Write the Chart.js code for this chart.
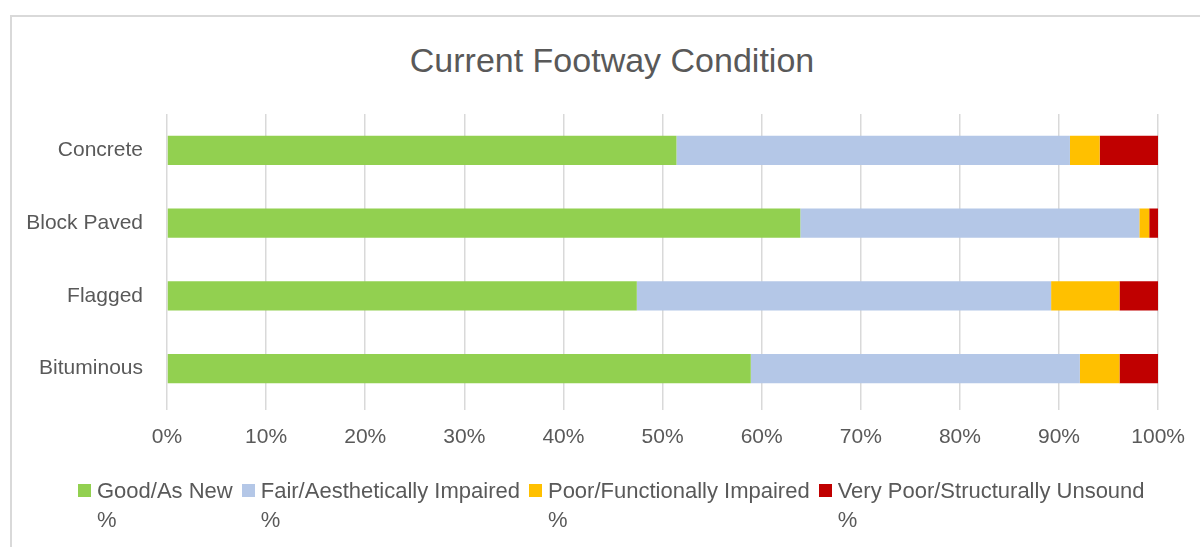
<!DOCTYPE html>
<html>
<head>
<meta charset="utf-8">
<title>Current Footway Condition</title>
<script src="https://cdn.jsdelivr.net/npm/chart.js@4.4.1/dist/chart.umd.min.js"></script>
<style>
  html, body { margin: 0; padding: 0; background: #fff; overflow: hidden; }
  #wrap { position: relative; width: 1200px; height: 547px; }
  #frame { position: absolute; left: 10px; top: 15px; width: 1220px; height: 600px; border: 2px solid #d9d9d9; box-sizing: border-box; }
  #chartBox { position: absolute; left: 0; top: 0; width: 1200px; height: 547px; }
  #title { position: absolute; left: 0; top: 40px; width: 1224px; text-align: center; font-family: 'Liberation Sans', Arial, sans-serif; font-size: 34px; line-height: 40px; color: #595959; }
  #legend { position: absolute; left: 78px; top: 476px; display: flex; font-family: 'Liberation Sans', Arial, sans-serif; font-size: 22px; color: #595959; line-height: 29px; }
  .item { display: flex; align-items: flex-start; margin-right: 9px; }
  .swatch { width: 13px; height: 13px; margin-top: 8px; margin-right: 6px; flex: none; }
</style>
</head>
<body>
<div id="wrap">
  <div id="frame"></div>
  <div id="title">Current Footway Condition</div>
  <div id="chartBox"><canvas id="chart"></canvas></div>
  <div id="legend"></div>
</div>
<script>
// surface types, top to bottom
const categories = ['Concrete', 'Block Paved', 'Flagged', 'Bituminous'];

// condition shares in percent, same order as categories
const goodAsNew = [51.4, 63.9, 47.4, 58.9];
const fairImpaired = [39.7, 34.2, 41.8, 33.2];
const poorImpaired = [3.0, 1.0, 6.9, 4.0];
const veryPoorUnsound = [5.9, 0.9, 3.9, 3.9];

const seriesNames = [
  'Good/As New %',
  'Fair/Aesthetically Impaired %',
  'Poor/Functionally Impaired %',
  'Very Poor/Structurally Unsound %'
];
const seriesColors = ['#92D050', '#B4C7E7', '#FFC000', '#C00000'];
const seriesValues = [goodAsNew, fairImpaired, poorImpaired, veryPoorUnsound];

const textColor = '#595959';
const gridColor = '#d9d9d9';
const fontFamily = "'Liberation Sans', Arial, sans-serif";

const datasets = seriesNames.map((name, i) => ({
  label: name,
  data: seriesValues[i],
  backgroundColor: seriesColors[i],
  borderWidth: 0,
  barPercentage: 0.4,
  categoryPercentage: 1.0
}));

new Chart(document.getElementById('chart'), {
  type: 'bar',
  data: { labels: categories, datasets: datasets },
  options: {
    indexAxis: 'y',
    responsive: true,
    maintainAspectRatio: false,
    animation: false,
    // title is an html div (Excel centres it off the plot centre)
    layout: { padding: { left: 0, right: 40, top: 114, bottom: 92 } },
    plugins: {
      legend: { display: false },
      tooltip: { enabled: false },
      title: { display: false }
    },
    scales: {
      x: {
        stacked: true,
        min: 0,
        max: 100,
        border: { display: false },
        grid: { color: gridColor, lineWidth: 1.5, drawTicks: true, tickLength: 5, tickColor: gridColor },
        ticks: {
          stepSize: 10,
          padding: 15,
          color: textColor,
          font: { family: fontFamily, size: 21 },
          callback: (v) => v + '%'
        },
        afterFit: (s) => { s.height = 50; }
      },
      y: {
        stacked: true,
        border: { display: false },
        grid: { display: false, drawTicks: false },
        ticks: {
          padding: 24,
          color: textColor,
          font: { family: fontFamily, size: 21 }
        },
        afterFit: (s) => { s.width = 167; }
      }
    }
  }
});

// legend drawn as html so the "%" can wrap onto a second line like the original
const legendEl = document.getElementById('legend');
seriesNames.forEach((name, i) => {
  const item = document.createElement('div');
  item.className = 'item';
  const sw = document.createElement('div');
  sw.className = 'swatch';
  sw.style.background = seriesColors[i];
  const txt = document.createElement('div');
  txt.innerHTML = name.replace(' %', '') + '<br>%';
  item.appendChild(sw);
  item.appendChild(txt);
  legendEl.appendChild(item);
});
</script>
</body>
</html>
